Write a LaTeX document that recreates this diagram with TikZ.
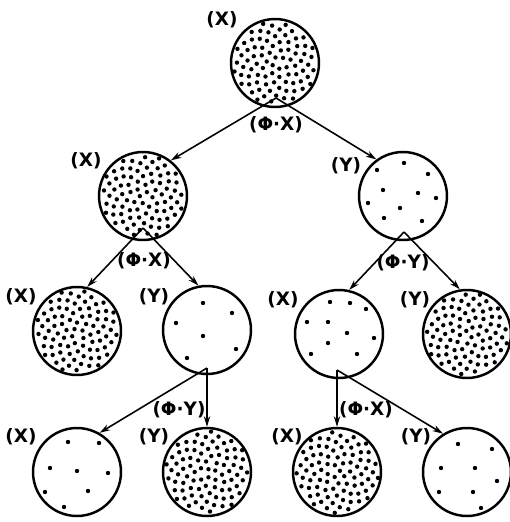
\documentclass[tikz,border=0pt]{standalone}
\usepackage{fontspec}
\setmainfont{DejaVu Sans}
\usetikzlibrary{arrows.meta}

% many dots, spread evenly over a ball
\newcommand\densefill[2]{%
  \foreach \i in {1,...,85}{
    \pgfmathsetmacro\rr{41.5*sqrt((\i-0.5)/85)}
    \pgfmathsetmacro\aa{\i*137.508+#2}
    \fill (#1) ++(\aa:\rr) circle (1.25pt);
  }}
% a few dots at given offsets
\newcommand\sparsefill[2]{%
  \foreach \dx/\dy in {#2}
    \fill (#1) ++(\dx,\dy) circle (1.25pt);}

\begin{document}
\begin{tikzpicture}[x=0.02cm, y=-0.02cm,
    ball/.style={draw, circle, line width=1.4pt, minimum size=1.76cm, inner sep=0pt},
    tag/.style={font=\bfseries\fontsize{10.5}{11}\selectfont, inner sep=0pt},
    >={Stealth[length=6pt, width=3.6pt]}]
  \useasboundingbox (0,0) rectangle (510,522);
  % balls
  \node[ball] (root) at (275, 63) {};
  \node[ball] (x1)   at (143, 196) {};
  \node[ball] (y1)   at (403, 196) {};
  \node[ball] (x11)  at (77, 331) {};
  \node[ball] (y11)  at (207, 330) {};
  \node[ball] (x12)  at (339, 334) {};
  \node[ball] (y12)  at (467, 334) {};
  \node[ball] (x21)  at (77, 472) {};
  \node[ball] (y21)  at (207, 472) {};
  \node[ball] (x22)  at (337, 472) {};
  \node[ball] (y22)  at (467, 472) {};
  % dots
  \densefill{root}{0}
  \densefill{x1}{40}
  \densefill{x11}{80}
  \densefill{y12}{120}
  \densefill{y21}{160}
  \densefill{x22}{200}
  \sparsefill{y1}{1/-33, -26/-26, 25/-22, -20/-6, 15/-3, 33/2, -35/7, -3/12, -19/22, 19/25}
  \sparsefill{y11}{-4/-27, 25/-17, -31/-7, -4/6, 29/19, -20/28}
  \sparsefill{x12}{-9/-32, 11/-31, 27/-25, -32/-12, -11/-12, 8/-1, 35/4, -11/9, -28/20, 18/20}
  \sparsefill{x21}{-9/-30, 22/-29, -27/-4, 0/-1, 31/1, -32/20, 11/19, -13/35}
  \sparsefill{y22}{-9/-28, 25/-23, -26/-4, 8/-4, 30/9, -28/20, 6/20, 14/36}
  % split points
  \coordinate (root-v) at (276, 98);
  \coordinate (x1-v)   at (143, 228);
  \coordinate (y1-v)   at (404, 232);
  \coordinate (y11-v)  at (207, 368);
  \coordinate (x12-v)  at (337, 370);
  % arrows
  \begin{scope}[line width=0.9pt]
    \draw[->] (root-v) to (x1.52);
    \draw[->] (root-v) to (y1.126);
    \draw[->] (x1-v)   to (x11.77);
    \draw[->] (x1-v)   to (y11.101);
    \draw[->] (y1-v)   to (x12.77);
    \draw[->] (y1-v)   to (y12.99);
    \draw[->] (y11-v)  to (x21.60);
    \draw[->] (y11-v)  to (y21.90);
    \draw[->] (x12-v)  to (x22.90);
    \draw[->] (x12-v)  to (y22.122);
  \end{scope}
  % labels
  \node[tag] (root-t) at (222, 20)  {(X)};
  \node[tag] (x1-t)   at (86, 161)  {(X)};
  \node[tag] (y1-t)   at (346, 166) {(Y)};
  \node[tag] (x11-t)  at (21, 297)  {(X)};
  \node[tag] (y11-t)  at (154, 297) {(Y)};
  \node[tag] (x12-t)  at (283, 300) {(X)};
  \node[tag] (y12-t)  at (415, 300) {(Y)};
  \node[tag] (x21-t)  at (21, 437)  {(X)};
  \node[tag] (y21-t)  at (154, 437) {(Y)};
  \node[tag] (x22-t)  at (287, 437) {(X)};
  \node[tag] (y22-t)  at (416, 437) {(Y)};
  \node[tag] (root-f) at (276, 125) {(Φ·X)};
  \node[tag] (x1-f)   at (144, 261) {(Φ·X)};
  \node[tag] (y1-f)   at (403, 263) {(Φ·Y)};
  \node[tag] (y11-f)  at (179, 410) {(Φ·Y)};
  \node[tag] (x12-f)  at (366, 410) {(Φ·X)};
\end{tikzpicture}
\end{document}
